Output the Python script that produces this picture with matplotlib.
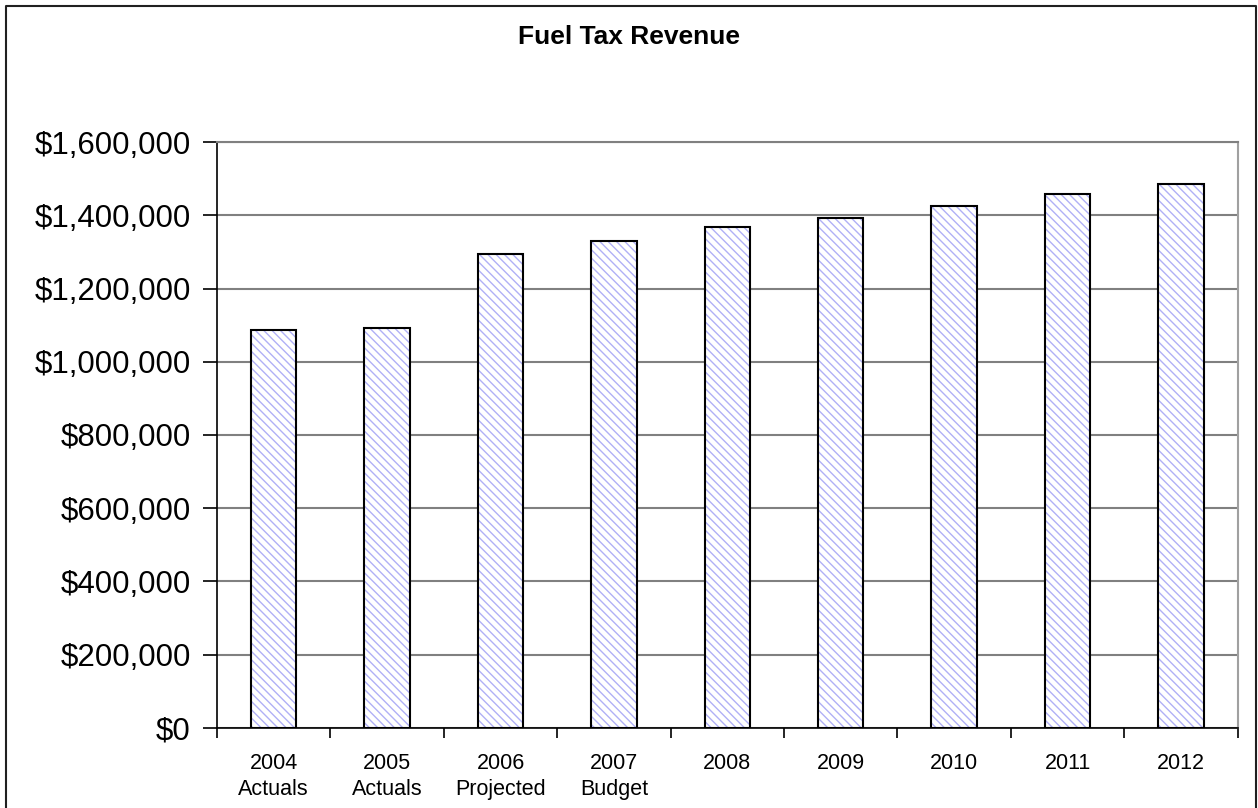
import numpy as np
import matplotlib
matplotlib.use('Agg')
import matplotlib.pyplot as plt
from matplotlib.ticker import FuncFormatter, FixedLocator

plt.rcParams['font.family'] = ['Liberation Sans', 'DejaVu Sans']
plt.rcParams['hatch.linewidth'] = 1.0
plt.rcParams['hatch.color'] = '#b0b0f6'

# data
years = ['2004', '2005', '2006', '2007', '2008', '2009', '2010', '2011', '2012']
notes = ['Actuals', 'Actuals', 'Projected', 'Budget', '', '', '', '', '']
revenue = [1087000, 1092500, 1294700, 1331100, 1367700, 1393100, 1426700, 1458700, 1486000]
yticks = [0, 200000, 400000, 600000, 800000, 1000000, 1200000, 1400000, 1600000]

W, H = 1258, 808
fig = plt.figure(figsize=(W / 100, H / 100), dpi=100)
ax = fig.add_axes([217 / W, (H - 727.7) / H, (1237.7 - 217) / W, (727.7 - 142.3) / H])

x = np.arange(len(years))
labels = [y + '\n' + n if n else y for y, n in zip(years, notes)]

# hatched fill, then black outline on top
ax.bar(x, revenue, width=0.4, color='white', hatch='\\\\\\\\', edgecolor='#b0b0f6',
       linewidth=0, zorder=2)
ax.bar(x, revenue, width=0.4, fill=False, edgecolor='black', linewidth=1.5, zorder=3)

ax.set_xlim(-0.5, len(years) - 0.5)
ax.set_ylim(0, 1600000)
ax.set_yticks(yticks)
ax.yaxis.set_major_formatter(FuncFormatter(lambda v, p: '${:,.0f}'.format(v)))
ax.grid(axis='y', color='#808080', linewidth=1.5, zorder=1)
ax.set_axisbelow(True)

ax.set_xticks(x)
ax.set_xticklabels(labels, fontsize=15.5, linespacing=1.35)
ax.xaxis.set_minor_locator(FixedLocator(np.arange(-0.5, len(years), 1.0)))
ax.tick_params(axis='x', which='major', length=0, pad=18)
ax.tick_params(axis='x', which='minor', length=7, width=1.2, direction='out')
ax.tick_params(axis='y', length=10, width=1.2, direction='out', labelsize=22.5, pad=9)

for s in ['left', 'bottom']:
    ax.spines[s].set_color('black')
    ax.spines[s].set_linewidth(1.2)
ax.spines['right'].set_color('#a0a0a0')
ax.spines['right'].set_linewidth(1.5)
ax.spines['top'].set_color('#808080')
ax.spines['top'].set_linewidth(1.5)

fig.text(0.5, (H - 37) / H, 'Fuel Tax Revenue', ha='center', va='center',
         fontsize=19, fontweight='bold')

# outer chart frame
fx0, fx1, fy1 = 5.5 / W, 1256 / W, (H - 5.5) / H
fig.add_artist(plt.Line2D([fx0, fx0, fx1, fx1], [0, fy1, fy1, 0],
                          transform=fig.transFigure, color='#202020', linewidth=1.5))

fig.savefig('out.png', dpi=100)
